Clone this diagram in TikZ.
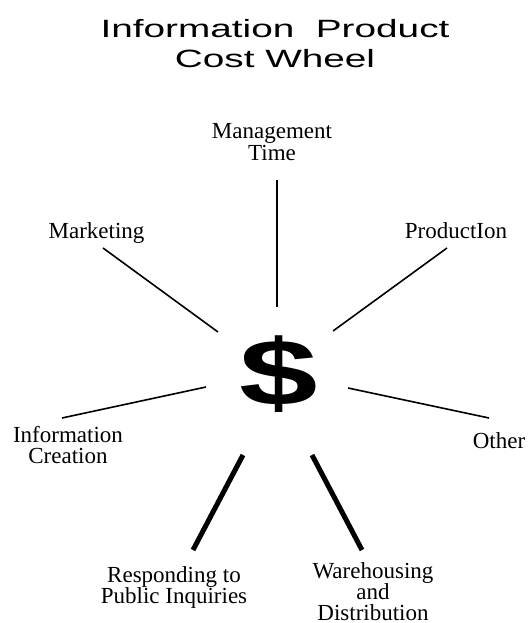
\documentclass[tikz,border=0pt]{standalone}
\usepackage{fontspec}
\setmainfont{Liberation Serif}
\newfontfamily\titlefont{Liberation Sans}
\newfontfamily\dollarfont{Liberation Sans}
\begin{document}
\begin{tikzpicture}[x=1pt,y=-1pt,
  lbl/.style={font=\fontsize{23}{21}\selectfont, align=center, inner sep=0pt, anchor=base},
  spoke/.style={line width=1.6pt},
  heavy/.style={line width=5pt}]
\useasboundingbox (0,0) rectangle (528,623);
% title
\node[inner sep=0pt, anchor=base, xscale=1.55, transform shape,
  font=\titlefont\fontsize{25}{30}\selectfont, align=center] (title) at (275,68)
  {Information\ \ Product\\Cost Wheel};
% dollar
\node[inner sep=0pt, xscale=1.5, transform shape,
  font=\dollarfont\bfseries\fontsize{94}{94}\selectfont] (dollar) at (279,374) {\$};
% labels
\node[lbl] (mgmt) at (272,160) {Management\\Time};
\node[lbl] (mkt) at (96.5,238) {Marketing};
\node[lbl] (prod) at (456,238) {ProductIon};
\node[lbl] (info) at (68,463) {Information\\Creation};
\node[lbl] (other) at (499,448) {Other};
\node[lbl] (resp) at (174,603) {Responding to\\Public Inquiries};
\node[lbl] (ware) at (373,620) {Warehousing\\and\\Distribution};
% spoke ends
\coordinate (mgmtA) at (277,180); \coordinate (mgmtB) at (277,307);
\coordinate (mktA) at (103,248);  \coordinate (mktB) at (218,332);
\coordinate (prodA) at (447,248); \coordinate (prodB) at (333,331);
\coordinate (infoA) at (62,418);  \coordinate (infoB) at (206,387);
\coordinate (otherA) at (489,418); \coordinate (otherB) at (348,388);
\coordinate (respA) at (193,550); \coordinate (respB) at (243,455);
\coordinate (wareA) at (362,550); \coordinate (wareB) at (312,455);
\draw[spoke, line width=2pt] (mgmtA) -- (mgmtB);
\draw[spoke] (mktA) -- (mktB);
\draw[spoke] (prodA) -- (prodB);
\draw[spoke] (infoA) -- (infoB);
\draw[spoke] (otherA) -- (otherB);
\draw[heavy] (respA) -- (respB);
\draw[heavy] (wareA) -- (wareB);
\end{tikzpicture}
\end{document}
